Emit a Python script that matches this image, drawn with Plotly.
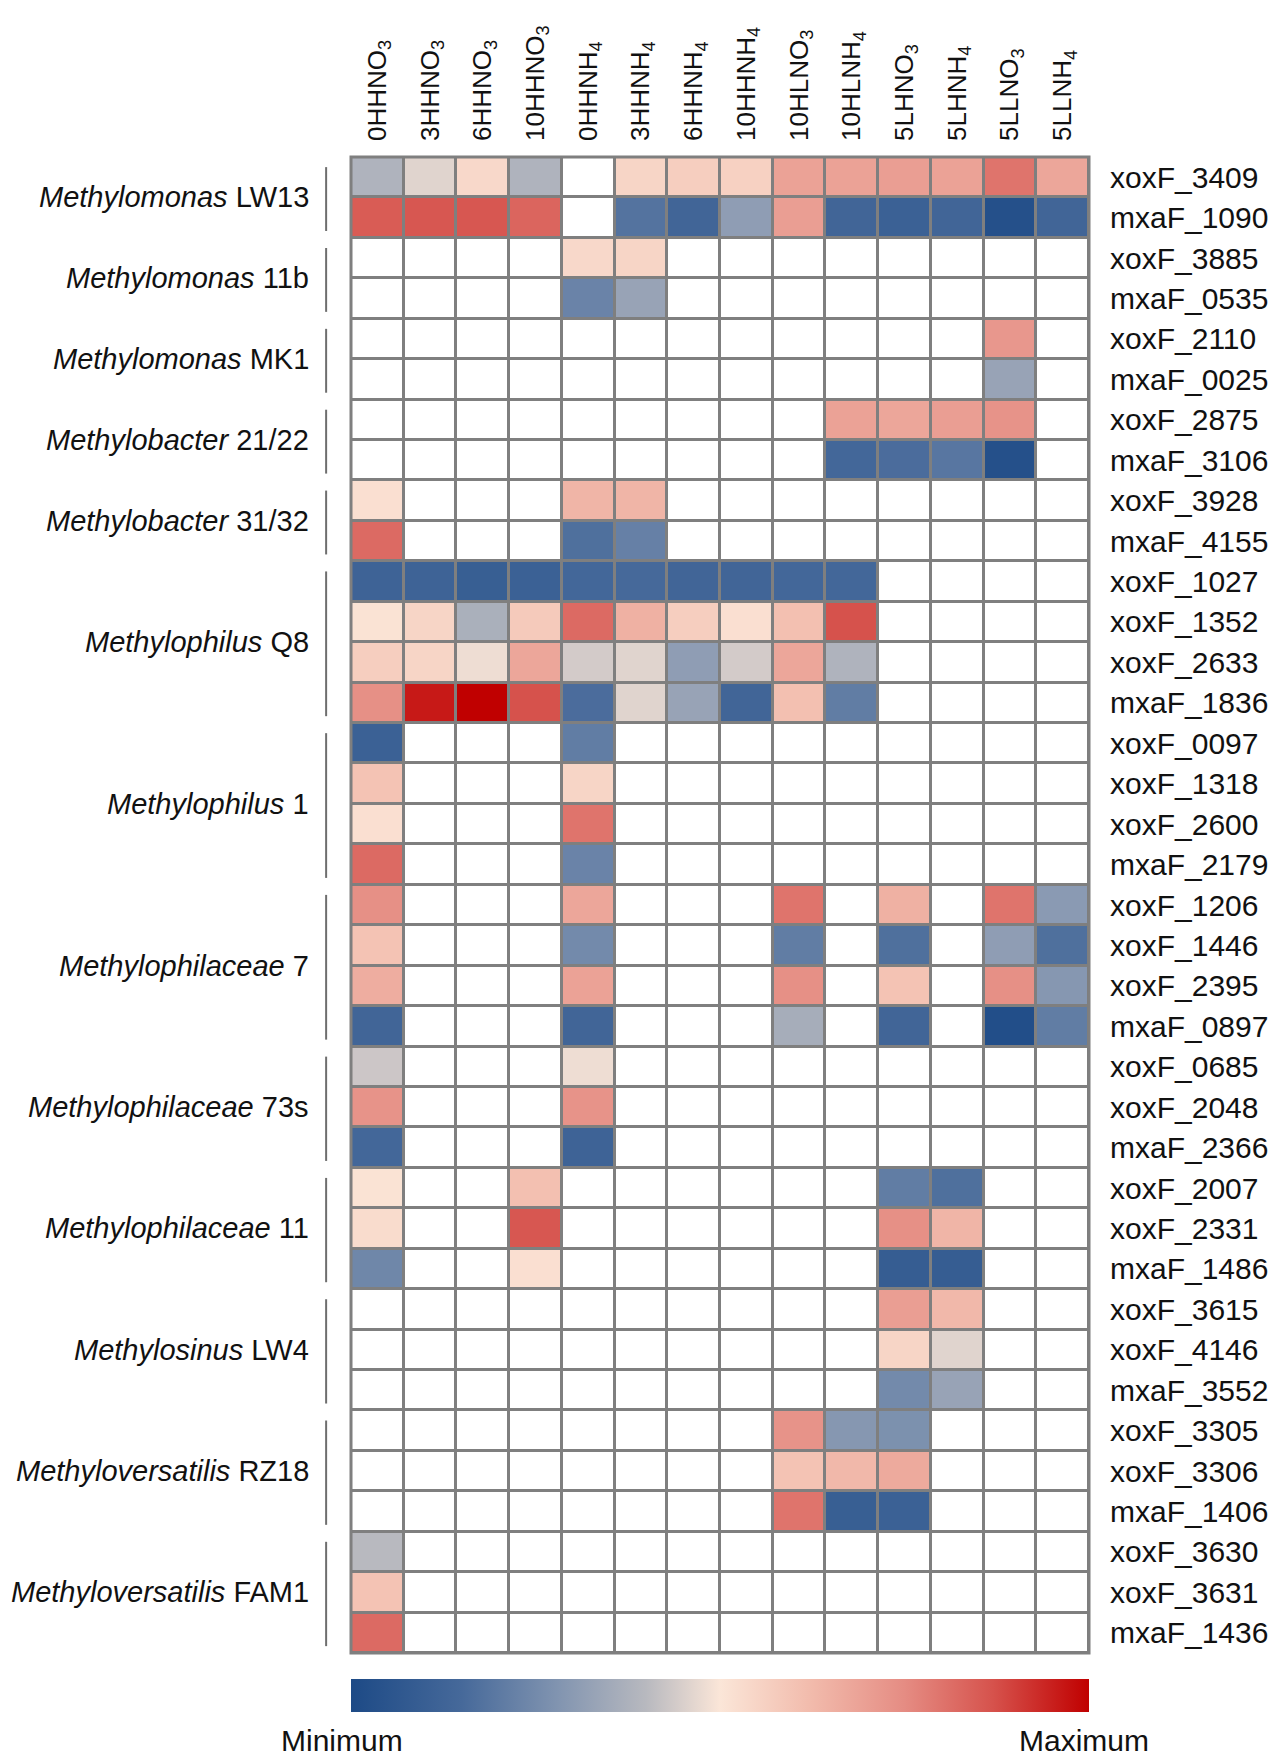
import plotly.graph_objects as go

# conditions (columns) and genes (rows), values scaled 0 (minimum) .. 1 (maximum), None = not detected
conditions = ['0HHNO<sub>3</sub>', '3HHNO<sub>3</sub>', '6HHNO<sub>3</sub>', '10HHNO<sub>3</sub>',
              '0HHNH<sub>4</sub>', '3HHNH<sub>4</sub>', '6HHNH<sub>4</sub>', '10HHNH<sub>4</sub>',
              '10HLNO<sub>3</sub>', '10HLNH<sub>4</sub>', '5LHNO<sub>3</sub>', '5LHNH<sub>4</sub>',
              '5LLNO<sub>3</sub>', '5LLNH<sub>4</sub>']

genes = ['xoxF_3409', 'mxaF_1090', 'xoxF_3885', 'mxaF_0535', 'xoxF_2110', 'mxaF_0025',
         'xoxF_2875', 'mxaF_3106', 'xoxF_3928', 'mxaF_4155', 'xoxF_1027', 'xoxF_1352',
         'xoxF_2633', 'mxaF_1836', 'xoxF_0097', 'xoxF_1318', 'xoxF_2600', 'mxaF_2179',
         'xoxF_1206', 'xoxF_1446', 'xoxF_2395', 'mxaF_0897', 'xoxF_0685', 'xoxF_2048',
         'mxaF_2366', 'xoxF_2007', 'xoxF_2331', 'mxaF_1486', 'xoxF_3615', 'xoxF_4146',
         'mxaF_3552', 'xoxF_3305', 'xoxF_3306', 'mxaF_1406', 'xoxF_3630', 'xoxF_3631',
         'mxaF_1436']

# organism groups: genus (italic), strain, number of genes
group_genus = ['Methylomonas', 'Methylomonas', 'Methylomonas', 'Methylobacter', 'Methylobacter',
               'Methylophilus', 'Methylophilus', 'Methylophilaceae', 'Methylophilaceae',
               'Methylophilaceae', 'Methylosinus', 'Methyloversatilis', 'Methyloversatilis']
group_strain = ['LW13', '11b', 'MK1', '21/22', '31/32', 'Q8', '1', '7', '73s', '11', 'LW4',
                'RZ18', 'FAM1']
group_size = [2, 2, 2, 2, 2, 4, 4, 4, 3, 3, 3, 3, 3]

N = None
values = [
    [0.38, 0.46, 0.54, 0.38, N, 0.55, 0.57, 0.56, 0.69, 0.69, 0.70, 0.69, 0.80, 0.68],
    [0.85, 0.86, 0.86, 0.83, N, 0.18, 0.13, 0.31, 0.70, 0.13, 0.11, 0.13, 0.03, 0.13],
    [N, N, N, N, 0.54, 0.55, N, N, N, N, N, N, N, N],
    [N, N, N, N, 0.23, 0.33, N, N, N, N, N, N, N, N],
    [N, N, N, N, N, N, N, N, N, N, N, N, 0.72, N],
    [N, N, N, N, N, N, N, N, N, N, N, N, 0.33, N],
    [N, N, N, N, N, N, N, N, N, 0.69, 0.68, 0.70, 0.73, N],
    [N, N, N, N, N, N, N, N, N, 0.14, 0.16, 0.19, 0.03, N],
    [0.52, N, N, N, 0.64, 0.64, N, N, N, N, N, N, N, N],
    [0.82, N, N, N, 0.17, 0.22, N, N, N, N, N, N, N, N],
    [0.12, 0.12, 0.10, 0.11, 0.14, 0.15, 0.13, 0.13, 0.14, 0.14, N, N, N, N],
    [0.51, 0.55, 0.37, 0.58, 0.82, 0.65, 0.57, 0.52, 0.61, 0.87, N, N, N, N],
    [0.57, 0.55, 0.48, 0.68, 0.44, 0.46, 0.31, 0.44, 0.68, 0.38, N, N, N, N],
    [0.74, 0.96, 1.00, 0.87, 0.16, 0.46, 0.33, 0.13, 0.61, 0.21, N, N, N, N],
    [0.11, N, N, N, 0.21, N, N, N, N, N, N, N, N, N],
    [0.60, N, N, N, 0.55, N, N, N, N, N, N, N, N, N],
    [0.52, N, N, N, 0.80, N, N, N, N, N, N, N, N, N],
    [0.82, N, N, N, 0.23, N, N, N, N, N, N, N, N, N],
    [0.74, N, N, N, 0.68, N, N, N, 0.80, N, 0.65, N, 0.80, 0.30],
    [0.60, N, N, N, 0.25, N, N, N, 0.21, N, 0.17, N, 0.31, 0.17],
    [0.66, N, N, N, 0.69, N, N, N, 0.74, N, 0.60, N, 0.74, 0.29],
    [0.13, N, N, N, 0.13, N, N, N, 0.36, N, 0.13, N, 0.02, 0.21],
    [0.43, N, N, N, 0.48, N, N, N, N, N, N, N, N, N],
    [0.73, N, N, N, 0.73, N, N, N, N, N, N, N, N, N],
    [0.14, N, N, N, 0.12, N, N, N, N, N, N, N, N, N],
    [0.51, N, N, 0.61, N, N, N, N, N, N, 0.21, 0.17, N, N],
    [0.53, N, N, 0.86, N, N, N, N, N, N, 0.74, 0.64, N, N],
    [0.24, N, N, 0.52, N, N, N, N, N, N, 0.09, 0.09, N, N],
    [N, N, N, N, N, N, N, N, N, N, 0.70, 0.63, N, N],
    [N, N, N, N, N, N, N, N, N, N, 0.55, 0.46, N, N],
    [N, N, N, N, N, N, N, N, N, N, 0.25, 0.33, N, N],
    [N, N, N, N, N, N, N, N, 0.73, 0.29, 0.27, N, N, N],
    [N, N, N, N, N, N, N, N, 0.60, 0.63, 0.67, N, N, N],
    [N, N, N, N, N, N, N, N, 0.80, 0.10, 0.11, N, N, N],
    [0.40, N, N, N, N, N, N, N, N, N, N, N, N, N],
    [0.60, N, N, N, N, N, N, N, N, N, N, N, N, N],
    [0.82, N, N, N, N, N, N, N, N, N, N, N, N, N],
]

colors = [[0.0, '#1d4a86'], [0.15, '#46699a'], [0.28, '#8194b0'], [0.4, '#b8b9bf'],
          [0.5, '#fbe6d8'], [0.62, '#f2bcad'], [0.75, '#e58c83'], [0.87, '#d6524c'],
          [1.0, '#c00000']]

FONT = 'Liberation Sans, Arial, sans-serif'
GRID = '#7f7f7f'
xs = list(range(len(conditions)))
ys = list(range(len(genes)))

fig = go.Figure()
# white cells underneath, seen where nothing was detected
fig.add_trace(go.Heatmap(x=xs, y=ys, z=[[1] * len(xs) for _ in ys],
                         colorscale=[[0, 'white'], [1, 'white']], showscale=False,
                         xgap=3, ygap=3, hoverinfo='skip'))
fig.add_trace(go.Heatmap(x=xs, y=ys, z=values, zmin=0, zmax=1, colorscale=colors,
                         xgap=3, ygap=3,
                         colorbar=dict(orientation='h', x=0.5, xanchor='center', y=-0.0174,
                                       yanchor='top', len=1, lenmode='fraction',
                                       thickness=33, xpad=0, ypad=0, outlinewidth=0,
                                       ticks='', showticklabels=False)))

# species names and their brackets
annos = []
shapes = [dict(type='rect', xref='paper', yref='paper', x0=0, x1=1, y0=0, y1=1,
               line=dict(color=GRID, width=3))]
start = 0
for genus, strain, n in zip(group_genus, group_strain, group_size):
    end = start + n - 1
    annos.append(dict(text='<i>' + genus + '</i> ' + strain, xref='paper', yref='y',
                      x=-0.0545, y=(start + end) / 2, xanchor='right', yanchor='middle',
                      showarrow=False, font=dict(size=29, color='#111', family=FONT)))
    shapes.append(dict(type='line', xref='paper', yref='y', x0=-0.0337, x1=-0.0337,
                       y0=start - 0.5 + 0.25, y1=end + 0.5 - 0.17,
                       line=dict(color='#6e6e6e', width=2)))
    start = end + 1

for label, xpos in [('Minimum', -0.0127), ('Maximum', 0.993)]:
    annos.append(dict(text=label, xref='paper', yref='paper', x=xpos, y=-0.0585,
                      xanchor='center', yanchor='middle', showarrow=False,
                      font=dict(size=30, color='#111', family=FONT)))

# the page adds an 8 px body margin, so the figure is 8 px smaller and shifted
fig.update_layout(
    width=1272, height=1752,
    margin=dict(l=343, r=187, t=149, b=107),
    plot_bgcolor=GRID, paper_bgcolor='white',
    annotations=annos, shapes=shapes,
    font=dict(family=FONT, size=30, color='#111'),
)
fig.update_xaxes(side='top', tickvals=xs, ticktext=conditions, tickangle=-90,
                 tickfont=dict(size=26), ticks='', ticklabelstandoff=15,
                 showgrid=False, zeroline=False, range=[-0.5, len(xs) - 0.5])
fig.update_yaxes(side='right', tickvals=ys, ticktext=genes, tickfont=dict(size=30),
                 ticks='', ticklabelstandoff=20, showgrid=False, zeroline=False,
                 range=[len(ys) - 0.5, -0.5])

fig.write_html("out.html")
